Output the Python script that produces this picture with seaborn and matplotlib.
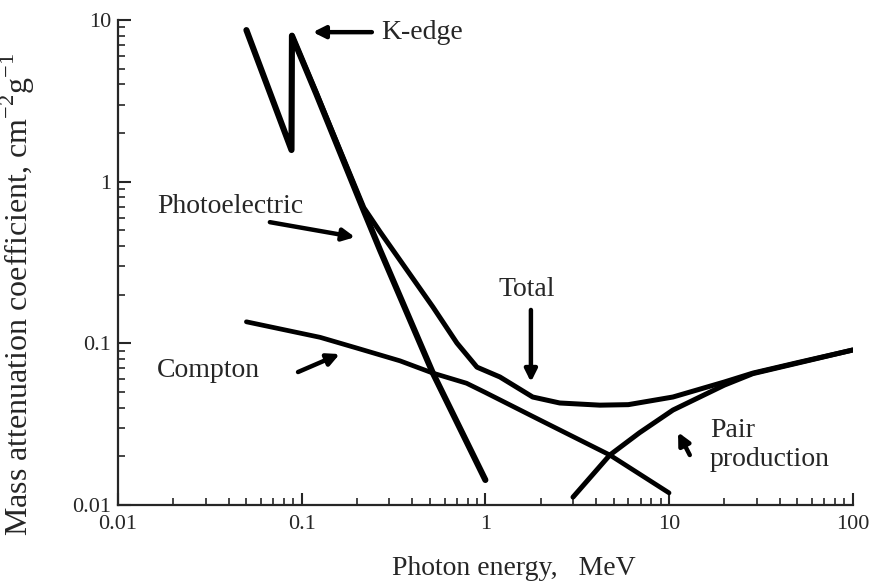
import matplotlib
matplotlib.use("Agg")
import matplotlib.pyplot as plt
import seaborn as sns

# curve data (MeV, cm^2/g)
photo_x = [0.05, 0.088, 0.0885, 0.12, 0.218, 0.267, 0.518, 1.0]
photo_y = [8.66, 1.57, 8.0, 3.5, 0.66, 0.378, 0.0655, 0.0143]

compton_x = [0.05, 0.126, 0.2, 0.343, 0.518, 0.79, 1.0, 1.98, 4.76, 10.0]
compton_y = [0.136, 0.109, 0.0935, 0.078, 0.0655, 0.0567, 0.0497, 0.0336, 0.0204, 0.0119]

pair_x = [3.0, 4.76, 6.9, 10.5, 20.0, 28.6, 50.0, 100.0]
pair_y = [0.0112, 0.0204, 0.028, 0.0387, 0.0552, 0.0650, 0.0755, 0.091]

total_x = [0.0885, 0.12, 0.218, 0.267, 0.343, 0.518, 0.70, 0.90, 1.2, 1.81, 2.54,
           4.2, 6.0, 10.5, 20.0, 28.6, 50.0, 100.0]
total_y = [8.0, 3.55, 0.69, 0.49, 0.327, 0.168, 0.1005, 0.0713, 0.062, 0.0466, 0.0428,
           0.0415, 0.0418, 0.0466, 0.0577, 0.0655, 0.076, 0.091]

sns.set_style("ticks")
plt.rcParams["font.family"] = ["Liberation Serif", "DejaVu Serif"]

fig = plt.figure(figsize=(8.71, 5.88), dpi=100)
ax = fig.add_axes([0.1355, 0.141, 0.8435, 0.825])

kw = dict(color="black", estimator=None, sort=False, legend=False, ax=ax)
sns.lineplot(x=photo_x, y=photo_y, lw=4.4, **kw)
sns.lineplot(x=total_x, y=total_y, lw=3.6, **kw)
sns.lineplot(x=compton_x, y=compton_y, lw=3.4, **kw)
sns.lineplot(x=pair_x, y=pair_y, lw=3.6, **kw)

ax.set_xscale("log")
ax.set_yscale("log")
ax.set_xlim(0.01, 100)
ax.set_ylim(0.01, 10)
ax.set_xticks([0.01, 0.1, 1, 10, 100])
ax.set_xticklabels(["0.01", "0.1", "1", "10", "100"])
ax.set_yticks([0.01, 0.1, 1, 10])
ax.set_yticklabels(["0.01", "0.1", "1", "10"])
ax.tick_params(which="major", direction="in", length=9, width=1.5, labelsize=16)
ax.tick_params(axis="x", which="major", pad=7)
ax.tick_params(axis="y", which="major", pad=5)
ax.tick_params(which="minor", direction="in", length=5, width=1.2)
for s in ["left", "bottom"]:
    ax.spines[s].set_linewidth(1.6)
sns.despine(ax=ax)

ax.set_xlabel("Photon energy,   MeV", fontsize=20)
ax.xaxis.set_label_coords(0.539, -0.105)
ax.set_ylabel(r"Mass attenuation coefficient, cm$^{\mathregular{-2}}$g$^{\mathregular{-1}}$",
              fontsize=23)
ax.yaxis.set_label_coords(-0.11, 0.435)

arrow = dict(arrowstyle="-|>", color="black", lw=3.2, mutation_scale=18, shrinkA=0, shrinkB=0)
tfs = 20
ax.annotate("", xy=(0.115, 8.41), xytext=(0.241, 8.41), arrowprops=arrow)
ax.text(0.27, 8.41, "K-edge", fontsize=tfs, va="center", ha="left")

ax.text(0.0163, 0.70, "Photoelectric", fontsize=tfs, va="center", ha="left")
ax.annotate("", xy=(0.195, 0.454), xytext=(0.0671, 0.562), arrowprops=arrow)

ax.text(0.0163, 0.0684, "Compton", fontsize=tfs, va="center", ha="left")
ax.annotate("", xy=(0.161, 0.0859), xytext=(0.0955, 0.0665), arrowprops=arrow)

ax.text(1.68, 0.214, "Total", fontsize=tfs, va="center", ha="center")
ax.annotate("", xy=(1.77, 0.0577), xytext=(1.77, 0.161), arrowprops=arrow)

ax.text(16.7, 0.0235, "Pair\nproduction", fontsize=tfs, va="center", ha="left", linespacing=1.25)
ax.annotate("", xy=(11.2, 0.0282), xytext=(12.97, 0.0204), arrowprops=arrow)

fig.savefig("out.png", dpi=100)
